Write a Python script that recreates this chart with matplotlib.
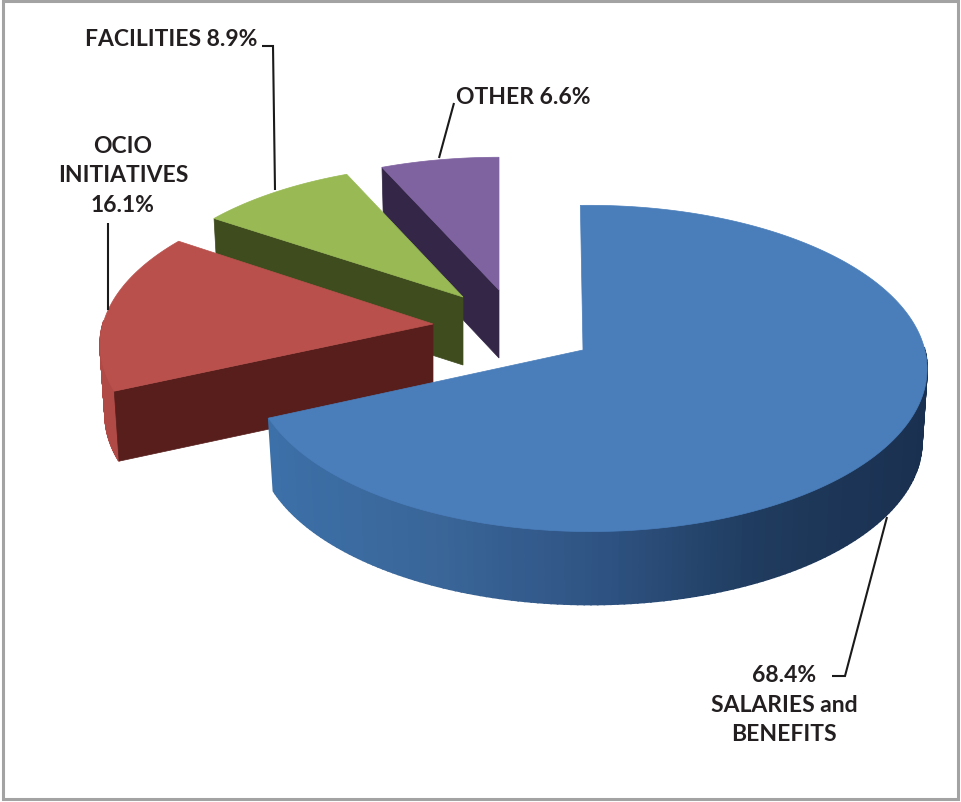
import numpy as np
import matplotlib
matplotlib.use('Agg')
import matplotlib.pyplot as plt
from matplotlib.colors import LinearSegmentedColormap
from matplotlib.patches import Polygon, Rectangle

plt.rcParams['font.family'] = ['Lato', 'DejaVu Sans']

# slice shares, in the order they run clockwise from 12 o'clock
categories = ['SALARIES and BENEFITS', 'OCIO INITIATIVES', 'FACILITIES', 'OTHER']
shares = [68.4, 16.1, 8.9, 6.6]

face_colors = ['#4a7ebb', '#b9504c', '#98b954', '#7f63a1']
cut_colors = ['#27476f', '#571e1c', '#3f4c1e', '#332646']
rim_colors = [['#3c70a8', '#3a6699', '#2f5484', '#1f3b5e', '#1a3050'],
              ['#b04a46', '#b04a46'], ['#5f7a2a', '#5f7a2a'], ['#4d3a6a', '#4d3a6a']]

# where each exploded slice has its tip, and how it is projected (pixels)
tips = [(583, 350), (433, 324), (463, 297), (499, 290)]
radius_x = [335, 330, 323, 325]
radius_y = [161, 158, 150, 150]
persp = [0.113, 0.13, 0.13, 0.13]
persp_side = [-0.02, 0, 0, 0]
turn = [-0.5, 0, 0, 0]
depth = [73, 70, 68, 68]
base_scale = 0.985


def project(theta, i):
    x = np.sin(theta)
    y = np.cos(theta)
    w = 1 + persp[i]*y + persp_side[i]*x
    return tips[i][0] + radius_x[i]*x/w, tips[i][1] - radius_y[i]*y/w


fig = plt.figure(figsize=(9.62, 8.02), dpi=100)
ax = fig.add_axes([0, 0, 1, 1])
ax.set_xlim(0, 962)
ax.set_ylim(802, 0)
ax.axis('off')

ax.add_patch(Rectangle((3, 0.5), 955, 798, fc='white', ec='#a3a3a3', lw=2.2))

ends = np.cumsum(shares)/np.sum(shares)*2*np.pi
starts = np.concatenate(([0], ends[:-1]))

# back slices first, the big one sits in front
for i in [3, 2, 1, 0]:
    theta = np.linspace(starts[i], ends[i], 240) + np.radians(turn[i])
    ax_x, ax_y = project(theta, i)
    d = depth[i]
    tip_x, tip_y = tips[i]
    # the underside looks a little smaller than the top
    low_x = tip_x + (ax_x - tip_x)*base_scale
    low_y = ax_y + d

    # outer rim, cut in thin strips so it can shade from left to right
    cmap = LinearSegmentedColormap.from_list('rim', rim_colors[i])
    pos = (ax_x - ax_x.min())/(ax_x.max() - ax_x.min())
    for j in range(len(theta) - 1):
        # the far side of the rim is never seen
        if np.cos(theta[j]) > 0.02:
            continue
        strip = [(ax_x[j], ax_y[j]), (ax_x[j+1], ax_y[j+1]),
                 (low_x[j+1], low_y[j+1]), (low_x[j], low_y[j])]
        c = cmap(pos[j])
        ax.add_patch(Polygon(strip, fc=c, ec=c, lw=1.2))

    # straight cut face on the leading edge of the slice
    if i > 0:
        cut = [(tip_x, tip_y), (ax_x[0], ax_y[0]), (low_x[0], low_y[0]),
               (tip_x, tip_y + d)]
        ax.add_patch(Polygon(cut, fc=cut_colors[i], ec=cut_colors[i], lw=0.5))

    top = np.column_stack((np.r_[tip_x, ax_x], np.r_[tip_y, ax_y]))
    ax.add_patch(Polygon(top, fc=face_colors[i], ec=face_colors[i], lw=0.5))

# leader lines
line_kw = dict(color='#1a1a1a', lw=1.5, solid_capstyle='butt', solid_joinstyle='miter')
ax.plot([262, 273, 275], [46, 46, 190], **line_kw)
ax.plot([108, 108], [223, 310], **line_kw)
ax.plot([454, 439], [103, 158], **line_kw)
ax.plot([887, 845, 832], [517, 676, 676], **line_kw)

# labels
text_kw = dict(fontsize=16.5, fontweight='bold', color='#231f20', ha='center',
               va='center', linespacing=1.5)
ax.text(171, 39, f'{categories[2]} {shares[2]}%', **text_kw)
ax.text(523, 97, f'{categories[3]} {shares[3]}%', **text_kw)
ax.text(123, 176, f'OCIO\nINITIATIVES\n{shares[1]}%', **text_kw)
ax.text(784, 705, f'{shares[0]}%\nSALARIES and\nBENEFITS', **text_kw)

fig.savefig('out.png', dpi=100)
